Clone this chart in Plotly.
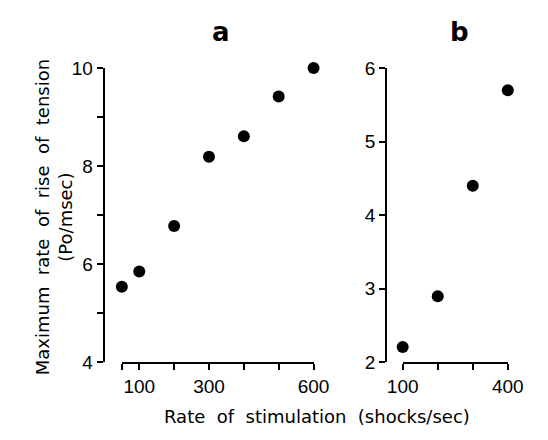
import plotly.graph_objects as go

# Panel a data
rate_a = [50, 100, 200, 300, 400, 500, 600]
tension_a = [5.54, 5.85, 6.78, 8.19, 8.61, 9.42, 10.0]
xticks_a = [50, 100, 200, 300, 400, 500, 600]
xticktext_a = ["", "100", "", "300", "", "", "600"]
yticks_a = [4, 5, 6, 7, 8, 9, 10]
yticktext_a = ["4", "", "6", "", "8", "", "10"]

# Panel b data
rate_b = [100, 200, 300, 400]
tension_b = [2.21, 2.90, 4.40, 5.70]
xticks_b = [100, 200, 300, 400]
xticktext_b = ["100", "", "", "400"]
yticks_b = [2, 3, 4, 5, 6]
yticktext_b = ["2", "3", "4", "5", "6"]

W, H = 548, 440
def px(x):
    return x / W
def py(y):
    return 1 - y / H

tickfont = dict(family="Liberation Sans", size=19, color="black")
marker = dict(color="black", size=12)

fig = go.Figure()
fig.add_trace(go.Scatter(x=rate_a, y=tension_a, mode="markers", marker=marker,
                         xaxis="x", yaxis="y", cliponaxis=False, showlegend=False))
fig.add_trace(go.Scatter(x=rate_b, y=tension_b, mode="markers", marker=marker,
                         xaxis="x2", yaxis="y2", cliponaxis=False, showlegend=False))

axis_common = dict(showgrid=False, zeroline=False, showline=True, linecolor="black",
                   linewidth=2, ticks="outside", tickwidth=2, tickcolor="black",
                   tickfont=tickfont, tickmode="array", fixedrange=True)

ydom = [py(370), py(61)]
fig.update_layout(
    width=W, height=H, autosize=False,
    margin=dict(l=0, r=0, t=0, b=0),
    paper_bgcolor="white", plot_bgcolor="white",
    xaxis=dict(domain=[px(112.4), px(316)], range=[50, 600], anchor="free",
               position=py(370.5), tickvals=xticks_a, ticktext=xticktext_a,
               ticklen=6, **axis_common),
    yaxis=dict(domain=ydom, range=[4, 10], anchor="free", position=px(93),
               tickvals=yticks_a, ticktext=yticktext_a, ticklen=6, **axis_common),
    xaxis2=dict(domain=[px(410.7), px(522.3)], range=[100, 400], anchor="free",
                position=py(370.5), tickvals=xticks_b, ticktext=xticktext_b,
                ticklen=6, **axis_common),
    yaxis2=dict(domain=ydom, range=[2, 6], anchor="free", position=px(393),
                tickvals=yticks_b, ticktext=yticktext_b, ticklen=6, **axis_common),
    annotations=[
        dict(text="<b>a</b>", x=px(218), y=py(23), xref="paper", yref="paper",
             showarrow=False, font=dict(family="DejaVu Sans", size=26, color="black"),
             xanchor="center", yanchor="middle"),
        dict(text="<b>b</b>", x=px(471), y=py(23), xref="paper", yref="paper",
             showarrow=False, font=dict(family="DejaVu Sans", size=26, color="black"),
             xanchor="center", yanchor="middle"),
        dict(text="Rate  of  stimulation  (shocks/sec)", x=px(320), y=py(427),
             xref="paper", yref="paper", showarrow=False,
             font=dict(family="DejaVu Sans", size=18, color="black"),
             xanchor="center", yanchor="middle"),
        dict(text="Maximum  rate  of  rise  of  tension<br>(Po/msec)",
             x=px(40), y=py(218), xref="paper", yref="paper", showarrow=False,
             textangle=-90, font=dict(family="DejaVu Sans", size=18, color="black"),
             xanchor="center", yanchor="middle"),
    ],
)

fig.write_html("out.html")
